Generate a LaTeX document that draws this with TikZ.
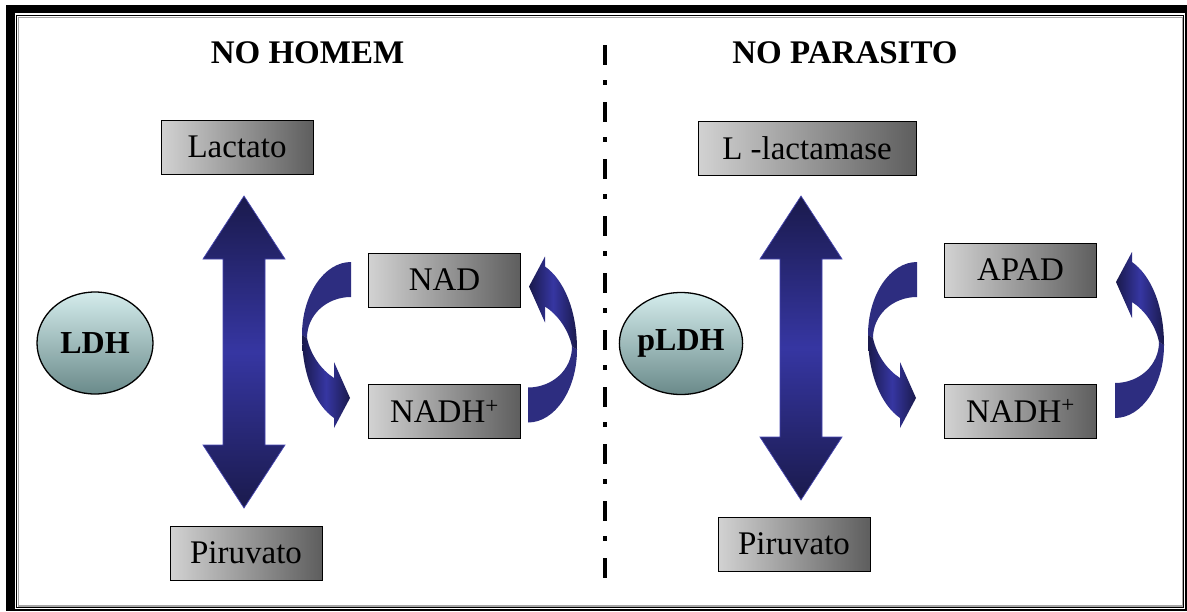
\documentclass[tikz,border=0pt]{standalone}
\usepackage{fontspec}
\setmainfont{Liberation Serif}
\usetikzlibrary{shapes.geometric}
\definecolor{navyD}{HTML}{1A1A4C}
\definecolor{navyL}{HTML}{3636A2}
\definecolor{navyM}{HTML}{2D2D80}
\definecolor{navyE}{HTML}{4646B0}
\definecolor{boxL}{HTML}{D2D2D2}
\definecolor{boxD}{HTML}{5E5E5E}
\definecolor{ellT}{HTML}{D4ECEC}
\definecolor{ellB}{HTML}{6A8A8A}
\begin{document}
\begin{tikzpicture}[x=1pt,y=-1pt,
  boxnode/.style={draw=black, line width=1pt, left color=boxL, right color=boxD,
    minimum width=152pt, minimum height=54pt, inner sep=0pt,
    font=\fontsize{33}{36}\selectfont},
  enzyme/.style={ellipse, draw=black, line width=1.3pt, top color=ellT, bottom color=ellB,
    minimum width=116pt, minimum height=102pt, inner sep=0pt,
    font=\fontsize{32}{36}\selectfont\bfseries},
  titletext/.style={font=\fontsize{33}{36}\selectfont\bfseries, inner sep=0pt},
  blockarrow/.style={draw=navyE, line width=0.7pt, top color=navyD, bottom color=navyD, middle color=navyL},
  curveup/.style={fill=navyM},
  curvelow/.style={left color=navyD, right color=navyD, middle color=navyL},
  divider/.style={line width=4.5pt, dash pattern=on 20pt off 15pt on 5pt off 17pt},
  curvedarr/.pic={
    \path[curveup] (24.5,-83) .. controls (-2.5,-83) and (-24.5,-50) .. (-24.5,-10)
      -- (-19.5,-7) .. controls (-19.5,-30) and (0,-48) .. (24.5,-48) -- cycle;
    \path[curvelow] (-24.5,-10) .. controls (-24.5,30) and (-11,60) .. (7.5,73)
      -- (7.5,83) -- (23.5,53) -- (7.5,17) -- (7.5,33)
      .. controls (-5,25) and (-16,10) .. (-19.5,-7) -- cycle;
  }
]
\useasboundingbox (0,0) rectangle (1187,611);
% frame
\fill[black] (6,5) rectangle (1187,611);
\fill[white] (15,12.5) rectangle (1184.5,608.5);
\draw[black, line width=1.3pt] (16.7,15.7) rectangle (1183.6,607.3);
\draw[gray!70, line width=1.2pt] (18.2,17.2) rectangle (1182.2,605.9);

% divider
\coordinate (d1) at (605,45);
\coordinate (d2) at (605,582);
\draw[divider] (d1) -- (d2);

% titles
\node[titletext] (t1) at (307.5,53) {NO HOMEM};
\node[titletext] (t2) at (845,53) {NO PARASITO};

% left side
\node[boxnode] (lac) at (237,147) {Lactato};
\node[boxnode] (pir1) at (246,553) {Piruvato};
\node[boxnode] (nad) at (444.5,280) {NAD};
\node[boxnode] (nadh1) at (444.5,411.5) {NADH\textsuperscript{+}};
\node[enzyme] (ldh) at (95,343) {LDH};

% right side
\node[boxnode, minimum width=218pt] (llac) at (807,148) {L -lactamase};
\node[boxnode] (pir2) at (794,544) {Piruvato};
\node[boxnode] (apad) at (1020.5,270) {APAD};
\node[boxnode] (nadh2) at (1020.5,411) {NADH\textsuperscript{+}};
\node[enzyme] (pldh) at (681,343.5) {pLDH};

% double block arrows
\path[blockarrow] (244,196) -- (285,259) -- (265,259) -- (265,445) -- (285,445) -- (244,508)
  -- (203,445) -- (223,445) -- (223,259) -- (203,259) -- cycle;
\path[blockarrow] (801,196) -- (842,259) -- (822,259) -- (822,437) -- (842,437) -- (801,500)
  -- (760,437) -- (780,437) -- (780,259) -- (760,259) -- cycle;

% curved arrows
\pic at (326.5,345) {curvedarr};
\pic[rotate=180] at (552.5,339.5) {curvedarr};
\pic at (892.5,345) {curvedarr};
\pic[rotate=180] at (1139.5,335) {curvedarr};
\end{tikzpicture}
\end{document}
